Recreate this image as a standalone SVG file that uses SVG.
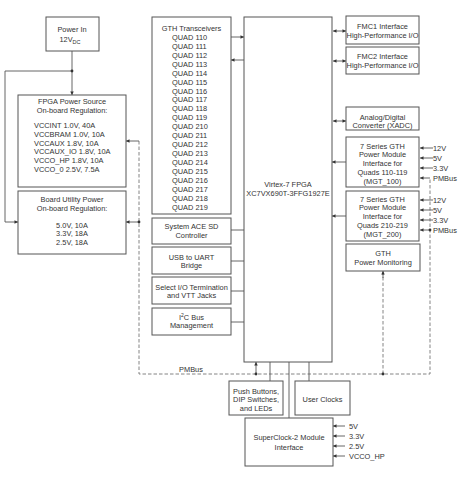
<svg xmlns="http://www.w3.org/2000/svg" width="465" height="478" viewBox="0 0 465 478">
<defs>
<style>
.box{fill:#fff;stroke:#555;stroke-width:1}
text{font-family:"Liberation Sans",Arial,sans-serif;font-size:7.4px;fill:#333}
.c{text-anchor:middle}
.ln{fill:none;stroke:#555;stroke-width:0.9}
.dash{fill:none;stroke:#777;stroke-width:0.9;stroke-dasharray:3.5,2}
.dot{fill:#333}
</style>
<marker id="ah" viewBox="0 0 6 6" refX="6" refY="3" markerWidth="4.5" markerHeight="3.5" orient="auto-start-reverse" markerUnits="userSpaceOnUse">
<path d="M0,0 L6,3 L0,6 z" fill="#333"/>
</marker>
</defs>
<rect width="465" height="478" fill="#fff"/>

<g id="connectors">
<!-- power in -->
<path class="ln" d="M72,51 V95" marker-end="url(#ah)"/>
<path class="ln" d="M72,71 H5 V222 H18" marker-end="url(#ah)"/>
<circle class="dot" cx="72" cy="71" r="1.4"/>
<!-- left dashed PMBus -->
<path class="dash" d="M139,141 V374 H430 V178"/>
<path class="ln" d="M139,141 H126" marker-end="url(#ah)"/>
<path class="ln" d="M139,222 H126" marker-end="url(#ah)"/>
<circle class="dot" cx="139" cy="222" r="1.4"/>
<!-- GTH <-> FPGA -->
<path class="ln" d="M231,37 H244" marker-end="url(#ah)"/>
<path class="ln" d="M244,60 H231" marker-end="url(#ah)"/>
<!-- left small boxes -->
<path class="ln" d="M231,230 H244 M231,261 H244 M231,291 H244 M231,322 H244"/>
<!-- right side -->
<path class="ln" d="M333,31 H346" marker-start="url(#ah)" marker-end="url(#ah)"/>
<path class="ln" d="M333,61 H346" marker-start="url(#ah)" marker-end="url(#ah)"/>
<path class="ln" d="M333,121 H346" marker-start="url(#ah)" marker-end="url(#ah)"/>
<path class="ln" d="M346,162 H332" marker-end="url(#ah)"/>
<path class="ln" d="M346,216 H332" marker-end="url(#ah)"/>
<!-- module 1 inputs -->
<path class="ln" d="M433,148 H420" marker-end="url(#ah)"/>
<path class="ln" d="M433,158 H420" marker-end="url(#ah)"/>
<path class="ln" d="M433,168 H420" marker-end="url(#ah)"/>
<path class="ln" d="M430,178 H420" marker-end="url(#ah)"/>
<!-- module 2 inputs -->
<path class="ln" d="M433,200 H420" marker-end="url(#ah)"/>
<path class="ln" d="M433,210 H420" marker-end="url(#ah)"/>
<path class="ln" d="M433,220 H420" marker-end="url(#ah)"/>
<path class="ln" d="M430,230 H420" marker-end="url(#ah)"/>
<circle class="dot" cx="430" cy="230" r="1.4"/>
<!-- GTH power monitoring -->
<path class="dash" d="M383,374 V272"/>
<path class="ln" d="M383,278 V271" marker-end="url(#ah)"/>
<circle class="dot" cx="383" cy="374" r="1.4"/>
<!-- FPGA bottom -->
<path class="ln" d="M256,374 V362" marker-end="url(#ah)"/>
<circle class="dot" cx="256" cy="374" r="1.4"/>
<path class="ln" d="M270,362 V381 M289,362 V418 M309,362 V381"/>
<!-- superclock inputs -->
<path class="ln" d="M345,426 H333" marker-end="url(#ah)"/>
<path class="ln" d="M345,436 H333" marker-end="url(#ah)"/>
<path class="ln" d="M345,446 H333" marker-end="url(#ah)"/>
<path class="ln" d="M345,456 H333" marker-end="url(#ah)"/>
<text x="191" y="372" class="c">PMBus</text>
<text x="433" y="150.5">12V</text>
<text x="433" y="160.5">5V</text>
<text x="433" y="170.5">3.3V</text>
<text x="433" y="180.5">PMBus</text>
<text x="433" y="202.5">12V</text>
<text x="433" y="212.5">5V</text>
<text x="433" y="222.5">3.3V</text>
<text x="433" y="232.7">PMBus</text>
<text x="349" y="428.7">5V</text>
<text x="349" y="438.7">3.3V</text>
<text x="349" y="448.7">2.5V</text>
<text x="349" y="458.7">VCCO_HP</text>
</g>

<g id="power-in">
<rect class="box" x="46" y="17" width="53" height="34"/>
<text x="72" y="31.7" class="c">Power In</text>
<text x="70" y="41.5" class="c">12V<tspan dy="2" font-size="5.5">DC</tspan></text>
</g>

<g id="fpga-power-source">
<rect class="box" x="18" y="95" width="108" height="92"/>
<text x="72" y="103.7" class="c">FPGA Power Source</text>
<text x="72" y="112.7" class="c">On-board Regulation:</text>
<text x="34" y="127.7">VCCINT 1.0V, 40A</text>
<text x="34" y="136.6">VCCBRAM 1.0V, 10A</text>
<text x="34" y="145.5">VCCAUX 1.8V, 10A</text>
<text x="34" y="154.4">VCCAUX_IO 1.8V, 10A</text>
<text x="34" y="163.3">VCCO_HP 1.8V, 10A</text>
<text x="34" y="172.2">VCCO_0 2.5V, 7.5A</text>
</g>

<g id="board-utility-power">
<rect class="box" x="18" y="191" width="108" height="63"/>
<text x="72" y="201.7" class="c">Board Utility Power</text>
<text x="72" y="210.7" class="c">On-board Regulation:</text>
<text x="72" y="227.7" class="c">5.0V, 10A</text>
<text x="72" y="236.2" class="c">3.3V, 18A</text>
<text x="72" y="244.7" class="c">2.5V, 18A</text>
</g>

<g id="gth-transceivers">
<rect class="box" x="152" y="17" width="79" height="197"/>
<text x="191.5" y="30.7" class="c">GTH Transceivers</text>
<text x="172" y="40">QUAD 110</text>
<text x="172" y="48.9">QUAD 111</text>
<text x="172" y="57.8">QUAD 112</text>
<text x="172" y="66.8">QUAD 113</text>
<text x="172" y="75.7">QUAD 114</text>
<text x="172" y="84.6">QUAD 115</text>
<text x="172" y="93.5">QUAD 116</text>
<text x="172" y="102.4">QUAD 117</text>
<text x="172" y="111.4">QUAD 118</text>
<text x="172" y="120.3">QUAD 119</text>
<text x="172" y="129.2">QUAD 210</text>
<text x="172" y="138.1">QUAD 211</text>
<text x="172" y="147">QUAD 212</text>
<text x="172" y="156">QUAD 213</text>
<text x="172" y="164.9">QUAD 214</text>
<text x="172" y="173.8">QUAD 215</text>
<text x="172" y="182.7">QUAD 216</text>
<text x="172" y="191.6">QUAD 217</text>
<text x="172" y="200.6">QUAD 218</text>
<text x="172" y="209.5">QUAD 219</text>
</g>

<g id="fpga">
<rect class="box" x="244" y="17" width="88" height="345"/>
<text x="288" y="186.7" class="c">Virtex-7 FPGA</text>
<text x="288" y="195.7" class="c">XC7VX690T-3FFG1927E</text>
</g>

<g id="system-ace">
<rect class="box" x="152" y="218" width="79" height="26"/>
<text x="191.5" y="228.7" class="c">System ACE SD</text>
<text x="191.5" y="237.7" class="c">Controller</text>
</g>

<g id="usb-uart">
<rect class="box" x="152" y="247" width="79" height="27"/>
<text x="191.5" y="259.7" class="c">USB to UART</text>
<text x="191.5" y="268.2" class="c">Bridge</text>
</g>

<g id="select-io">
<rect class="box" x="152" y="277" width="79" height="27"/>
<text x="191.5" y="289.7" class="c">Select I/O Termination</text>
<text x="191.5" y="297.7" class="c">and VTT Jacks</text>
</g>

<g id="i2c">
<rect class="box" x="152" y="308" width="79" height="27"/>
<text x="191.5" y="319.7" class="c">I<tspan dy="-2.5" font-size="5">2</tspan><tspan dy="2.5">C Bus</tspan></text>
<text x="191.5" y="327.7" class="c">Management</text>
</g>

<g id="fmc1">
<rect class="box" x="346" y="16" width="73" height="28"/>
<text x="382.5" y="28.7" class="c">FMC1 Interface</text>
<text x="382.5" y="37.7" class="c">High-Performance I/O</text>
</g>

<g id="fmc2">
<rect class="box" x="346" y="47" width="73" height="27"/>
<text x="382.5" y="58.7" class="c">FMC2 Interface</text>
<text x="382.5" y="67.7" class="c">High-Performance I/O</text>
</g>

<g id="xadc">
<rect class="box" x="346" y="107" width="73" height="23"/>
<text x="382.5" y="119.7" class="c">Analog/Digital</text>
<text x="382.5" y="128.2" class="c">Converter (XADC)</text>
</g>

<g id="gth-pm-100">
<rect class="box" x="346" y="137" width="73" height="50"/>
<text x="382.5" y="148.7" class="c">7 Series GTH</text>
<text x="382.5" y="157.2" class="c">Power Module</text>
<text x="382.5" y="165.7" class="c">Interface  for</text>
<text x="382.5" y="174.7" class="c">Quads 110-119</text>
<text x="382.5" y="183.7" class="c">(MGT_100)</text>
</g>

<g id="gth-pm-200">
<rect class="box" x="346" y="191" width="73" height="50"/>
<text x="382.5" y="201.7" class="c">7 Series GTH</text>
<text x="382.5" y="210.2" class="c">Power Module</text>
<text x="382.5" y="218.7" class="c">Interface  for</text>
<text x="382.5" y="227.7" class="c">Quads 210-219</text>
<text x="382.5" y="236.7" class="c">(MGT_200)</text>
</g>

<g id="gth-power-monitoring">
<rect class="box" x="346" y="244" width="74" height="27"/>
<text x="383" y="255.7" class="c">GTH</text>
<text x="383" y="264.7" class="c">Power Monitoring</text>
</g>

<g id="push-buttons">
<rect class="box" x="229" y="381" width="54" height="34"/>
<text x="256" y="393.7" class="c">Push Buttons,</text>
<text x="256" y="402.2" class="c">DIP Switches,</text>
<text x="256" y="410.7" class="c">and LEDs</text>
</g>

<g id="user-clocks">
<rect class="box" x="295" y="381" width="55" height="34"/>
<text x="322.5" y="401.7" class="c">User Clocks</text>
</g>

<g id="superclock">
<rect class="box" x="245" y="418" width="88" height="48"/>
<text x="289" y="439.7" class="c">SuperClock-2 Module</text>
<text x="289" y="449.7" class="c">Interface</text>
</g>
</svg>
